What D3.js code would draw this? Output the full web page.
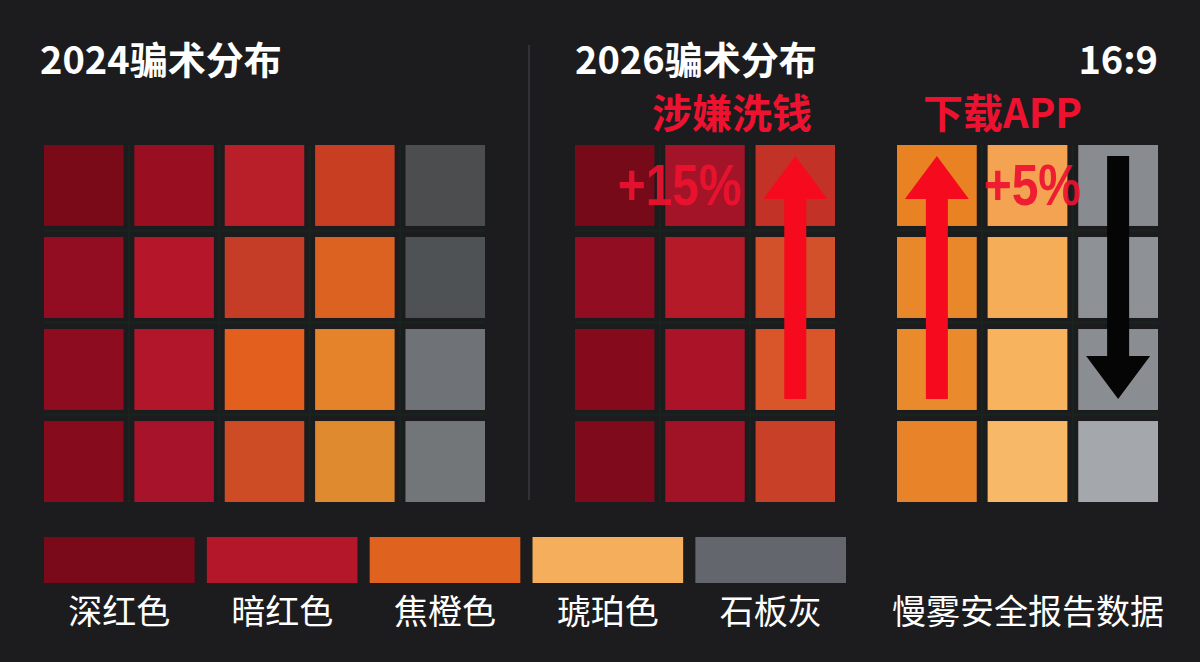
<!DOCTYPE html>
<html lang="zh">
<head>
<meta charset="UTF-8">
<title>骗术分布</title>
<script src="https://d3js.org/d3.v7.min.js"></script>
<style>
  html, body { margin: 0; padding: 0; background: #1c1c1e; }
  svg text { font-family: "Noto Sans CJK SC", "Noto Sans", sans-serif; }
</style>
</head>
<body>
<svg id="chart" width="1200" height="662"></svg>
<script>
// legend categories and their swatch colours
const categories = ["深红色", "暗红色", "焦橙色", "琥珀色", "石板灰"];
const categoryColors = ["#7a0a1a", "#b4172a", "#e0621f", "#f5ae5b", "#63676d"];

// 2024 grid: 4 rows x 5 columns (cell colours)
const grid2024 = [
  ["#7b0a18", "#9a0e22", "#b81f29", "#c83e23", "#4b4d4f"],
  ["#920d22", "#b5162a", "#c63d27", "#dc6222", "#4f5254"],
  ["#8d0c1f", "#b2162a", "#e25f1e", "#e5832a", "#6f7378"],
  ["#860b1d", "#a6132a", "#cd4b25", "#e08a30", "#737679"]
];

// 2026 grid: two blocks of 4 rows x 3 columns
const grid2026Red = [
  ["#770a19", "#a31428", "#c23227"],
  ["#900d22", "#b51a29", "#d2502a"],
  ["#850b1c", "#ab1428", "#d8562a"],
  ["#7e0a1c", "#a01226", "#c84027"]
];
const grid2026Orange = [
  ["#e98223", "#f3a352", "#888b8f"],
  ["#e8882a", "#f5ad58", "#8e9196"],
  ["#e98a2c", "#f7b35e", "#8a8d92"],
  ["#e8832a", "#f7b868", "#a4a7ab"]
];

// change annotations
const trendLabels = ["+15%", "+5%"];
const trendTitles = ["涉嫌洗钱", "下载APP"];

const svg = d3.select("#chart");
const white = "#ffffff";
const red = "#ee1230";

svg.append("rect").attr("width", 1200).attr("height", 662).attr("fill", "#1c1c1e");

// scales
const rows = d3.range(4);
const y = d3.scaleBand().domain(rows).range([145, 502]).paddingInner(0.12);
const x2024 = d3.scaleBand().domain(d3.range(5)).range([44, 485]).paddingInner(0.12);
const xRed = d3.scaleBand().domain(d3.range(3)).range([575, 835]).paddingInner(0.12);
const xOrange = d3.scaleBand().domain(d3.range(3)).range([897, 1158]).paddingInner(0.12);

// faint separators in the gaps
function gapLines(xs) {
  const g = svg.append("g").attr("stroke", "#18251f").attr("stroke-width", 2);
  const [x0, x1] = xs.range();
  const gap = xs.step() - xs.bandwidth();
  rows.slice(1).forEach(r => {
    const yy = y(r) - gap / 2 - 1;
    g.append("line").attr("x1", x0).attr("x2", x1).attr("y1", yy).attr("y2", yy);
  });
  xs.domain().slice(1).forEach(c => {
    const xx = xs(c) - gap / 2;
    g.append("line").attr("x1", xx).attr("x2", xx).attr("y1", y.range()[0]).attr("y2", y.range()[1]);
  });
}

function drawGrid(data, xs) {
  gapLines(xs);
  const cells = [];
  data.forEach((row, r) => row.forEach((c, i) => cells.push({ r, i, c })));
  svg.append("g").selectAll("rect")
    .data(cells)
    .join("rect")
    .attr("x", d => xs(d.i))
    .attr("y", d => y(d.r))
    .attr("width", xs.bandwidth())
    .attr("height", y.bandwidth())
    .attr("fill", d => d.c);
}

drawGrid(grid2024, x2024);
drawGrid(grid2026Red, xRed);
drawGrid(grid2026Orange, xOrange);

// divider
svg.append("line")
  .attr("x1", 529).attr("x2", 529).attr("y1", 45).attr("y2", 500)
  .attr("stroke", "#323236").attr("stroke-width", 2);

// titles
svg.append("text").attr("x", 40).attr("y", 74).attr("fill", white)
  .attr("font-size", 38).attr("font-weight", 700).text("2024骗术分布");
svg.append("text").attr("x", 575).attr("y", 74).attr("fill", white)
  .attr("font-size", 38).attr("font-weight", 700).text("2026骗术分布");
svg.append("text").attr("x", 1158).attr("y", 74).attr("fill", white)
  .attr("text-anchor", "end")
  .attr("font-size", 38).attr("font-weight", 700).text("16:9");

// red annotation titles
svg.append("text").attr("x", 812).attr("y", 128).attr("fill", red)
  .attr("text-anchor", "end")
  .attr("font-size", 40).attr("font-weight", 700).text(trendTitles[0]);
svg.append("text").attr("x", 923).attr("y", 128).attr("fill", red)
  .attr("font-size", 40).attr("font-weight", 700).text(trendTitles[1]);

// arrows: top of row 0 to bottom of row 2
function arrow(cx, up, color) {
  const top = y(0) + 11, bottom = y(2) + y.bandwidth() - 11;
  const sw = 11, hw = 32, hh = 43;
  let pts;
  if (up) {
    pts = [[cx, top], [cx + hw, top + hh], [cx + sw, top + hh], [cx + sw, bottom],
           [cx - sw, bottom], [cx - sw, top + hh], [cx - hw, top + hh]];
  } else {
    pts = [[cx, bottom], [cx + hw, bottom - hh], [cx + sw, bottom - hh], [cx + sw, top],
           [cx - sw, top], [cx - sw, bottom - hh], [cx - hw, bottom - hh]];
  }
  svg.append("path").attr("d", d3.line()(pts) + "Z").attr("fill", color);
}

// percentage labels (tall, narrow bold face)
function pctLabel(x, anchor, text) {
  svg.append("text")
    .attr("transform", `translate(${x},205) scale(1,1.2)`)
    .attr("text-anchor", anchor)
    .attr("fill", red)
    .attr("opacity", 0.92)
    .style("font-family", "'Liberation Sans', Arial, sans-serif")
    .attr("font-size", 48)
    .attr("font-weight", 700)
    .text(text);
}
pctLabel(xRed(1) + xRed.bandwidth() - 3, "end", trendLabels[0]);
pctLabel(xOrange(1) - 4, "start", trendLabels[1]);

arrow(xRed(2) + xRed.bandwidth() / 2, true, "#f50a1e");
arrow(xOrange(0) + xOrange.bandwidth() / 2, true, "#f50a1e");
arrow(xOrange(2) + xOrange.bandwidth() / 2, false, "#050505");

// legend
const xLeg = d3.scaleBand().domain(categories).range([44, 846]).paddingInner(0.075);
const legend = svg.append("g");
legend.selectAll("rect")
  .data(categories)
  .join("rect")
  .attr("x", d => xLeg(d))
  .attr("y", 537)
  .attr("width", xLeg.bandwidth())
  .attr("height", 46)
  .attr("fill", (d, i) => categoryColors[i]);
legend.selectAll("text")
  .data(categories)
  .join("text")
  .attr("x", d => xLeg(d) + xLeg.bandwidth() / 2)
  .attr("y", 624)
  .attr("text-anchor", "middle")
  .attr("fill", white)
  .attr("font-size", 34)
  .text(d => d);

svg.append("text").attr("x", 1164).attr("y", 624).attr("fill", white)
  .attr("text-anchor", "end").attr("font-size", 34).text("慢雾安全报告数据");
</script>
</body>
</html>
